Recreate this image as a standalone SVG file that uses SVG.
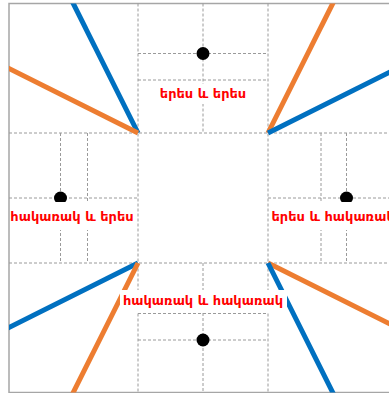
<svg xmlns="http://www.w3.org/2000/svg" width="389" height="393" viewBox="0 0 389 393">
  <style>
    .frame { fill: #ffffff; stroke: #a6a6a6; stroke-width: 1.5; }
    .grid { stroke: #9a9a9a; stroke-width: 1; stroke-dasharray: 3 2; fill: none; }
    .blue { stroke: #0070c0; stroke-width: 5; fill: none; }
    .orange { stroke: #ed7d31; stroke-width: 5; fill: none; }
    .dot { fill: #000000; }
    .bg { fill: #ffffff; }
    .lbl { font-family: "DejaVu Sans", "Noto Sans", sans-serif; font-weight: bold; font-size: 13px; fill: #ff0000; dominant-baseline: central; }
  </style>
  <defs>
    <clipPath id="inside">
      <rect x="9" y="3.5" width="388" height="389"/>
    </clipPath>
  </defs>

  <rect class="frame" x="9" y="3.5" width="388" height="389"/>

  <!-- dashed guide grid -->
  <g id="grid" class="grid">
    <line x1="138" y1="3.5" x2="138" y2="392.5"/>
    <line x1="268" y1="3.5" x2="268" y2="392.5"/>
    <line x1="9" y1="133" x2="397" y2="133"/>
    <line x1="9" y1="263" x2="397" y2="263"/>
    <!-- top cell -->
    <line x1="203" y1="3.5" x2="203" y2="133"/>
    <line x1="138" y1="53.5" x2="268" y2="53.5"/>
    <line x1="138" y1="80" x2="268" y2="80"/>
    <!-- bottom cell -->
    <line x1="203" y1="263" x2="203" y2="392.5"/>
    <line x1="138" y1="313.5" x2="268" y2="313.5"/>
    <line x1="138" y1="340" x2="268" y2="340"/>
    <!-- left cell -->
    <line x1="9" y1="198" x2="138" y2="198"/>
    <line x1="60.5" y1="133" x2="60.5" y2="263"/>
    <line x1="87.5" y1="133" x2="87.5" y2="263"/>
    <!-- right cell -->
    <line x1="268" y1="198" x2="397" y2="198"/>
    <line x1="321" y1="133" x2="321" y2="263"/>
    <line x1="346.5" y1="133" x2="346.5" y2="263"/>
  </g>

  <!-- rays from the four corners of the centre square -->
  <g id="connectors" clip-path="url(#inside)">
    <line class="blue" x1="138" y1="133" x2="68" y2="-7"/>
    <line class="orange" x1="138" y1="133" x2="-2" y2="63"/>
    <line class="orange" x1="268" y1="133" x2="338" y2="-7"/>
    <line class="blue" x1="268" y1="133" x2="408" y2="63"/>
    <line class="blue" x1="138" y1="263" x2="-2" y2="333"/>
    <line class="orange" x1="138" y1="263" x2="68" y2="403"/>
    <line class="orange" x1="268" y1="263" x2="408" y2="333"/>
    <line class="blue" x1="268" y1="263" x2="338" y2="403"/>
  </g>

  <g id="top">
    <circle class="dot" cx="203" cy="53.5" r="6.5"/>
    <rect class="bg" x="157" y="84" width="92" height="20"/>
    <text class="lbl" x="203" y="93" text-anchor="middle">երես և երես</text>
  </g>

  <g id="left">
    <circle class="dot" cx="60.5" cy="198" r="6.5"/>
    <rect class="bg" x="10" y="202" width="125" height="28"/>
    <text class="lbl" x="72" y="216.5" text-anchor="middle">հակառակ և երես</text>
  </g>

  <g id="right">
    <circle class="dot" cx="346.5" cy="198" r="6.5"/>
    <rect class="bg" x="269" y="202" width="128" height="28"/>
    <text class="lbl" x="271.5" y="216.5">երես և հակառակ</text>
  </g>

  <g id="bottom">
    <circle class="dot" cx="203" cy="340" r="6.5"/>
    <rect class="bg" x="120" y="290" width="167" height="22"/>
    <text class="lbl" x="203" y="300" text-anchor="middle">հակառակ և հակառակ</text>
  </g>
</svg>
